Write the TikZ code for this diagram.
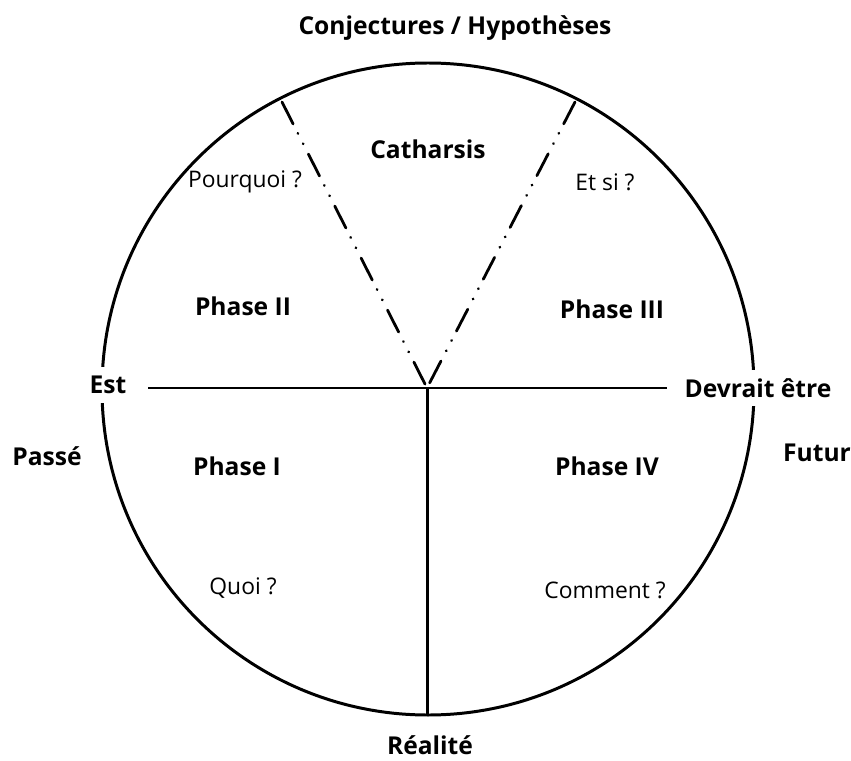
\documentclass[tikz,border=0pt]{standalone}
\usepackage{fontspec}
\setmainfont{Open Sans}
\begin{document}
\begin{tikzpicture}[x=0.02cm, y=-0.02cm,
  lbl/.style={font=\fontsize{13}{15}\selectfont},
  blbl/.style={font=\fontsize{14}{16}\selectfont\bfseries},
  trait/.style={line width=1.7pt},
  tiret/.style={line width=1.6pt, line cap=round,
    dash pattern=on 14pt off 6pt on 0.1pt off 6.5pt on 0.1pt off 6.5pt}]
% Units are pixels of the reference: (0,0) top left, y down

% Frame
\useasboundingbox (0,0) rectangle (851,760);

% Circle and its centre
\coordinate (c) at (428,389);
\draw[trait] (c) circle [radius=326];

% Axis ends
\coordinate (apex)  at (427,388);
\coordinate (west)  at (148,388);
\coordinate (east)  at (667,388);
\coordinate (south) at (427,715);
\coordinate (nw)    at (282,102);
\coordinate (ne)    at (575,102);

% Axes
\draw[trait] (west) -- (east);
\draw[trait] (apex) -- (south);

% Catharsis wedge
\draw[tiret] (nw) -- (apex);
\draw[tiret] (ne) -- (apex);

% Outside labels (white behind, they cut the circle)
\node[blbl] (conj)    at (455,28)  {Conjectures / Hypothèses};
\node[blbl, fill=white, inner sep=5pt] (est)     at (108,385) {Est};
\node[blbl, fill=white, inner sep=5pt] (devrait) at (758,388) {Devrait être};
\node[blbl] (passe)   at (47,456)  {Passé};
\node[blbl] (futur)   at (817,453) {Futur};
\node[blbl] (realite) at (430,745) {Réalité};

% Inside labels
\node[blbl] (cath)   at (428,149) {Catharsis};
\node[lbl]  (pourq)  at (245,182) {Pourquoi ?};
\node[lbl]  (etsi)   at (605,182) {Et si ?};
\node[blbl] (ph2)    at (243,306) {Phase II};
\node[blbl] (ph3)    at (612,309) {Phase III};
\node[blbl] (ph1)    at (237,466) {Phase I};
\node[blbl] (ph4)    at (607,466) {Phase IV};
\node[lbl]  (quoi)   at (243,588) {Quoi ?};
\node[lbl]  (comm)   at (605,590) {Comment ?};
\end{tikzpicture}
\end{document}
